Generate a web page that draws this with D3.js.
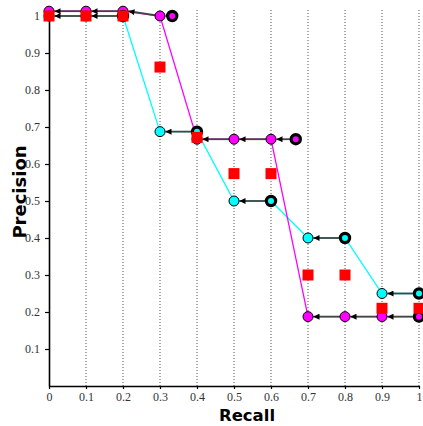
<!DOCTYPE html>
<html><head><meta charset="utf-8">
<script src="https://cdn.jsdelivr.net/npm/d3@7"></script>
<style>body{margin:0;background:#fff}svg{display:block}</style>
</head><body>
<svg id="c" width="423" height="426"></svg>
<script>
const recallLevels = [0,0.1,0.2,0.3,0.4,0.5,0.6,0.7,0.8,0.9,1.0];
const cyanInterp    = [1,1,1,0.6875,0.6875,0.5,0.5,0.4,0.4,0.25,0.25];
const magentaInterp = [1.013,1.013,1.013,1,0.667,0.667,0.667,0.1875,0.1875,0.1875,0.1875];
const averagePrec   = [1,1,1,0.862,0.672,0.574,0.574,0.3,0.3,0.21,0.21];
const cyanActualRecall    = [0.2,0.4,0.6,0.8,1.0];
const cyanActualPrec      = [1,0.6875,0.5,0.4,0.25];
const magentaActualRecall = [0.333,0.667,1.0];
const magentaActualPrec   = [1,0.667,0.1875];
const xTicks = [0,0.1,0.2,0.3,0.4,0.5,0.6,0.7,0.8,0.9,1];
const yTicks = [0.1,0.2,0.3,0.4,0.5,0.6,0.7,0.8,0.9,1];

const svg = d3.select("#c");
const x = d3.scaleLinear().domain([0,1]).range([49,419]);
const y = d3.scaleLinear().domain([0,1]).range([386,16]);

svg.append("defs").append("marker")
  .attr("id","ah").attr("viewBox","0 0 10 10").attr("refX",10).attr("refY",5)
  .attr("markerWidth",7).attr("markerHeight",6).attr("markerUnits","userSpaceOnUse")
  .attr("orient","auto")
  .append("path").attr("d","M0,0L10,5L0,10Z").attr("fill","#000");

// grid
svg.append("g").selectAll("line").data(xTicks.filter(d=>d>0)).join("line")
  .attr("x1",d=>x(d)).attr("x2",d=>x(d)).attr("y1",10).attr("y2",386)
  .attr("stroke","#555").attr("stroke-width",1).attr("stroke-dasharray","1,2");

// axes
const xAxis = svg.append("g").attr("transform","translate(0,386)")
  .call(d3.axisBottom(x).tickValues(xTicks).tickFormat(d=>d===0?"0":d===1?"1":d3.format(".1f")(d)).tickSize(3).tickPadding(3).tickSizeOuter(0));
const yAxis = svg.append("g").attr("transform","translate(49,0)")
  .call(d3.axisLeft(y).tickValues(yTicks).tickFormat(d=>d===1?"1":d3.format(".1f")(d)).tickSize(4).tickPadding(5).tickSizeOuter(0));
[xAxis,yAxis].forEach(a=>{
  a.select(".domain").attr("stroke","#000").attr("stroke-width",1.6);
  a.selectAll(".tick line").attr("stroke","#000").attr("stroke-width",1.2);
  a.selectAll("text").attr("font-family","'Liberation Serif', serif").attr("font-size",12).attr("fill","#333");
});

// axis titles
svg.append("text").attr("x",247).attr("y",421).attr("text-anchor","middle")
  .attr("font-family","'DejaVu Sans', sans-serif").attr("font-weight","bold").attr("font-size",16.5)
  .attr("fill","#000").text("Recall");
svg.append("text").attr("transform","translate(26,192) rotate(-90)").attr("text-anchor","middle")
  .attr("font-family","'DejaVu Sans', sans-serif").attr("font-weight","bold").attr("font-size",18)
  .attr("fill","#000").text("Precision");

const series = [
  {interp: cyanInterp, ar: cyanActualRecall, ap: cyanActualPrec, color:"#00ffff"},
  {interp: magentaInterp, ar: magentaActualRecall, ap: magentaActualPrec, color:"#ff00ff"}
];

const line = d3.line().x(d=>x(d[0])).y(d=>y(d[1]));
series.forEach(s=>{
  const pts = recallLevels.map((r,i)=>[r,s.interp[i]]);
  svg.append("path").attr("d",line(pts)).attr("fill","none").attr("stroke",s.color).attr("stroke-width",1.3);
});

const R = 5;
series.forEach(s=>{
  const actual = s.ar.map((r,i)=>[r,s.ap[i]]);
  const levels = recallLevels.map((r,i)=>[r,s.interp[i]]);
  const isActualX = v => actual.some(a=>Math.abs(a[0]-v)<1e-6);
  const candidates = levels.filter(p=>!isActualX(p[0])).concat(actual).sort((a,b)=>a[0]-b[0]);
  const arrows = [];
  levels.forEach(p=>{
    if (isActualX(p[0])) return;
    const src = candidates.find(q=>q[0]>p[0]+1e-6);
    if (src) arrows.push([src,p]);
  });
  svg.append("g").selectAll("line").data(arrows).join("line")
    .attr("x1",d=>x(d[0][0])).attr("y1",d=>y(d[0][1]))
    .attr("x2",d=>x(d[1][0])+R+0.5).attr("y2",d=>y(d[1][1]))
    .attr("stroke","#444").attr("stroke-width",1.8).attr("marker-end","url(#ah)");
  s.pts = levels; s.act = actual;
});

[series[1],series[0]].forEach(s=>{
  svg.append("g").selectAll("circle").data(s.pts).join("circle")
    .attr("cx",d=>x(d[0])).attr("cy",d=>y(d[1])).attr("r",R)
    .attr("fill",s.color).attr("stroke","#000").attr("stroke-width",1);
  svg.append("g").selectAll("circle").data(s.act).join("circle")
    .attr("cx",d=>x(d[0])).attr("cy",d=>y(d[1])).attr("r",4.6)
    .attr("fill",s.color).attr("stroke","#000").attr("stroke-width",3.2);
});

const S = 11;
svg.append("g").selectAll("rect").data(recallLevels.map((r,i)=>[r,averagePrec[i]])).join("rect")
  .attr("x",d=>x(d[0])-S/2).attr("y",d=>y(d[1])-S/2).attr("width",S).attr("height",S)
  .attr("fill","#ff0000");
</script>
</body></html>
